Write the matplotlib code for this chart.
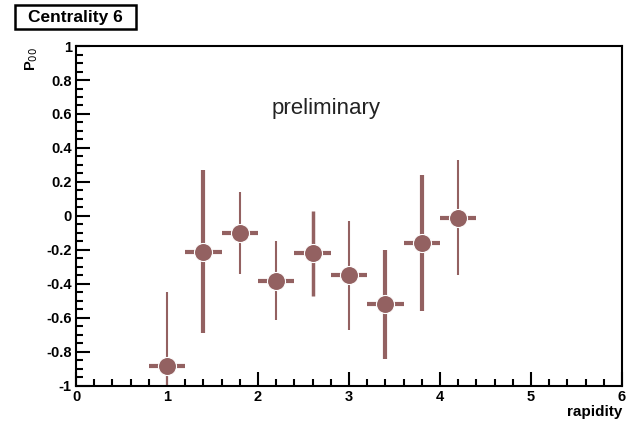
import matplotlib.pyplot as plt
from matplotlib.ticker import MultipleLocator
from matplotlib.patches import Rectangle

plt.rcParams["font.family"] = ["Liberation Sans", "DejaVu Sans"]

# rapidity bins (centres), half bin width and measured values
rapidity = [1.0, 1.4, 1.8, 2.2, 2.6, 3.0, 3.4, 3.8, 4.2]
half_width = [0.2, 0.2, 0.2, 0.2, 0.2, 0.2, 0.2, 0.2, 0.2]
p00 = [-0.88, -0.21, -0.10, -0.38, -0.22, -0.35, -0.52, -0.16, -0.01]
p00_err = [0.43, 0.48, 0.24, 0.23, 0.25, 0.32, 0.32, 0.40, 0.34]
bar_width = [1.5, 3.0, 1.5, 1.5, 2.5, 1.5, 3.0, 3.0, 1.5]

color = "#936161"

fig = plt.figure(figsize=(6.42, 4.26), dpi=100)
ax = fig.add_axes([0.1184, 0.094, 0.8505, 0.798])

for x, dx, y, dy, lw in zip(rapidity, half_width, p00, p00_err, bar_width):
    ax.errorbar(x, y, yerr=dy, fmt="none", ecolor=color, elinewidth=lw,
                capsize=0, zorder=2)
    ax.errorbar(x, y, xerr=dx, fmt="none", ecolor=color, elinewidth=3.0,
                capsize=0, zorder=2)
ax.plot(rapidity, p00, "o", color=color, markersize=13,
        markeredgecolor="white", markeredgewidth=0.8, zorder=3)

ax.set_xlim(0, 6)
ax.set_ylim(-1, 1)
ax.xaxis.set_major_locator(MultipleLocator(1))
ax.xaxis.set_minor_locator(MultipleLocator(0.2))
ax.yaxis.set_major_locator(MultipleLocator(0.2))
ax.yaxis.set_minor_locator(MultipleLocator(0.05))
ax.tick_params(which="both", direction="in", top=False, right=False,
               width=1.5, labelsize=10.5)
ax.tick_params(which="major", length=10, pad=3)
ax.tick_params(which="minor", length=5)
for lab in ax.get_xticklabels():
    lab.set_fontweight("bold")
ax.set_yticks([-1, -0.8, -0.6, -0.4, -0.2, 0, 0.2, 0.4, 0.6, 0.8, 1])
ax.set_yticklabels(["-1", "-0.8", "-0.6", "-0.4", "-0.2", "0", "0.2",
                    "0.4", "0.6", "0.8", "1"], fontweight="bold")
for s in ax.spines.values():
    s.set_linewidth(1.5)

ax.text(2.75, 0.63, "preliminary", fontsize=16, color="#222222",
        ha="center", va="center")

fig.text(0.969, 0.033, "rapidity", fontsize=11, fontweight="bold",
         ha="right", va="center")
fig.text(0.05, 0.862, "P$_{00}$", fontsize=10.5, fontweight="bold",
         rotation=90, ha="center", va="center")

# title box in the top-left corner
fig.patches.append(Rectangle((0.024, 0.933), 0.188, 0.056, transform=fig.transFigure,
                             facecolor="white", edgecolor="black", linewidth=1.8))
fig.text(0.118, 0.960, "Centrality 6", fontsize=12.5, fontweight="bold",
         ha="center", va="center")

fig.savefig("out.png", dpi=100)
